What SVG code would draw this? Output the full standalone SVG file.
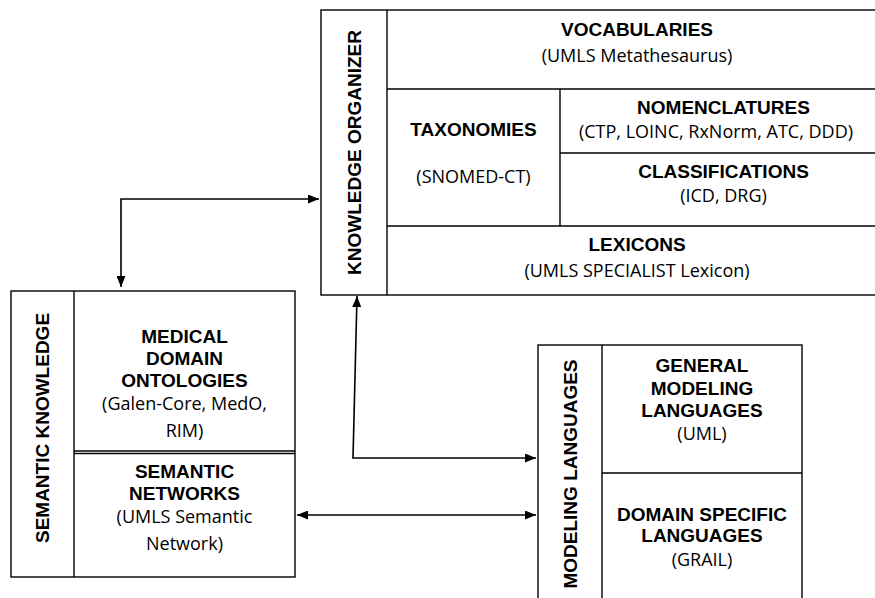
<svg xmlns="http://www.w3.org/2000/svg" width="875" height="598" viewBox="0 0 875 598">
<defs>
<marker id="ah" viewBox="0 0 11 9" markerWidth="11" markerHeight="9" refX="11" refY="4.5" orient="auto-start-reverse" markerUnits="userSpaceOnUse">
<path d="M0,0 L11,4.5 L0,9 z" fill="#000"/>
</marker>
<style>
.box{fill:#fff;stroke:#000;stroke-width:1.4}
.ln{fill:none;stroke:#000;stroke-width:1.4}
.h{font-family:"Liberation Sans",Arial,sans-serif;font-weight:bold;font-size:19px;text-anchor:middle;fill:#000}
.t{font-family:"Open Sans","Liberation Sans",sans-serif;font-size:18px;text-anchor:middle;fill:#000}
.c{fill:none;stroke:#000;stroke-width:1.6;marker-start:url(#ah);marker-end:url(#ah)}
</style>
</defs>
<rect width="875" height="598" fill="#fff"/>
<g id="knowledge-organizer">
<rect class="box" x="321" y="10" width="570" height="285"/>
<line class="ln" x1="387" y1="10" x2="387" y2="295"/>
<line class="ln" x1="387" y1="89" x2="891" y2="89"/>
<line class="ln" x1="387" y1="226" x2="891" y2="226"/>
<line class="ln" x1="560" y1="89" x2="560" y2="226"/>
<line class="ln" x1="560" y1="153" x2="891" y2="153"/>
<text class="h" transform="translate(361,152.5) rotate(-90)">KNOWLEDGE ORGANIZER</text>
<text class="h" x="637" y="36">VOCABULARIES</text>
<text class="t" x="637" y="62">(UMLS Metathesaurus)</text>
<text class="h" x="473.5" y="136">TAXONOMIES</text>
<text class="t" x="473.5" y="183">(SNOMED-CT)</text>
<text class="h" x="723.5" y="114">NOMENCLATURES</text>
<text class="t" x="716" y="138">(CTP, LOINC, RxNorm, ATC, DDD)</text>
<text class="h" x="723.5" y="178">CLASSIFICATIONS</text>
<text class="t" x="723.5" y="202">(ICD, DRG)</text>
<text class="h" x="637" y="251">LEXICONS</text>
<text class="t" x="637" y="277">(UMLS SPECIALIST Lexicon)</text>
</g>
<g id="semantic-knowledge">
<rect class="box" x="11" y="291" width="284" height="286"/>
<line class="ln" x1="74" y1="291" x2="74" y2="577"/>
<line class="ln" x1="74" y1="451" x2="295" y2="451"/>
<line class="ln" x1="74" y1="453.5" x2="295" y2="453.5"/>
<text class="h" transform="translate(49,428) rotate(-90)">SEMANTIC KNOWLEDGE</text>
<text class="h" x="184.5" y="343">MEDICAL</text>
<text class="h" x="184.5" y="365">DOMAIN</text>
<text class="h" x="184.5" y="387">ONTOLOGIES</text>
<text class="t" x="184.5" y="410">(Galen-Core, MedO,</text>
<text class="t" x="184.5" y="437">RIM)</text>
<text class="h" x="184.5" y="478">SEMANTIC</text>
<text class="h" x="184.5" y="500">NETWORKS</text>
<text class="t" x="184.5" y="523">(UMLS Semantic</text>
<text class="t" x="184.5" y="550">Network)</text>
</g>
<g id="modeling-languages">
<rect class="box" x="538" y="345" width="264" height="275"/>
<line class="ln" x1="602" y1="345" x2="602" y2="620"/>
<line class="ln" x1="602" y1="473" x2="802" y2="473"/>
<text class="h" transform="translate(577,474) rotate(-90)">MODELING LANGUAGES</text>
<text class="h" x="702" y="372">GENERAL</text>
<text class="h" x="702" y="395">MODELING</text>
<text class="h" x="702" y="417">LANGUAGES</text>
<text class="t" x="702" y="440">(UML)</text>
<text class="h" x="702" y="521">DOMAIN SPECIFIC</text>
<text class="h" x="702" y="542">LANGUAGES</text>
<text class="t" x="702" y="566">(GRAIL)</text>
</g>
<g id="connectors">
<path class="c" d="M121,287 L121,199 L319,199"/>
<path class="c" d="M357,296 L353,458 L536,458"/>
<path class="c" d="M297,515 L536,515"/>
</g>
</svg>
